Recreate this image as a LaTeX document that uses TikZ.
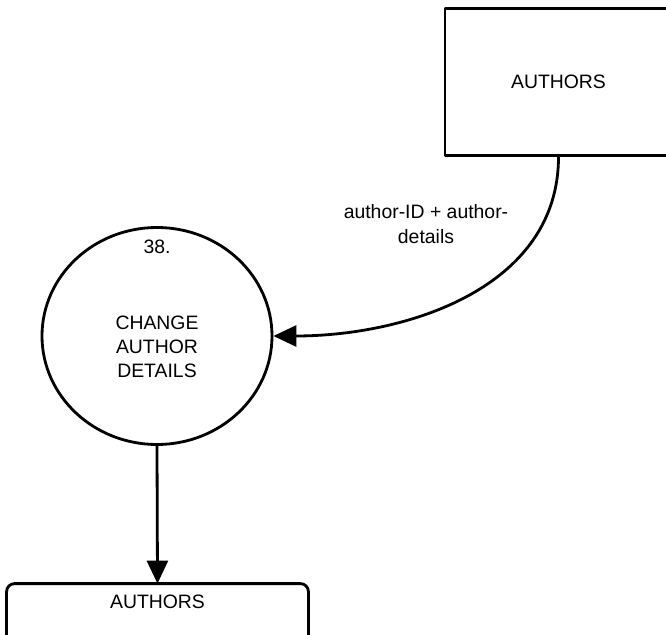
\documentclass[tikz,border=0pt]{standalone}
\usepackage{fontspec}
\setmainfont{Liberation Sans}
\usetikzlibrary{arrows.meta,shapes.geometric}

\tikzset{
  store/.style={draw, rectangle, minimum width=113.5pt, minimum height=73.5pt},
  process/.style={draw, ellipse, minimum width=115pt, minimum height=108.5pt},
  flow/.style={-{Triangle[length=11.5pt,width=10.5pt]}},
}

\begin{document}
\begin{tikzpicture}[line width=1.4pt, line join=round, x=0.5pt, y=0.5pt,
    font=\fontsize{9.7}{12}\selectfont]
  \useasboundingbox (0,0) rectangle (666,634);
  % Source store, cut off by the right edge.
  \node[store] (src) at (558.5,552) {AUTHORS};
  % Process bubble.
  \node[process] (proc) at (157,298) {};
  \node (num) at (157,387) {38.};
  \node[align=center] (name) at (157,287) {CHANGE\\AUTHOR\\DETAILS};
  % Target store, open at the bottom.
  \node[minimum width=149.5pt, minimum height=17pt] (dst) at (157.5,32) {AUTHORS};
  \draw[rounded corners=4pt] ([yshift=-20pt]dst.south west) |- (dst.north)
    -| ([yshift=-20pt]dst.south east);
  % Flows.
  \draw[flow] (src.south) to[out=-90, in=0] (proc.east);
  \node[align=center, font=\fontsize{9.7}{12.5}\selectfont] (lbl) at (426,410)
    {author-ID + author-\\details};
  \draw[flow] (proc.south) -- (dst.north);
\end{tikzpicture}
\end{document}
